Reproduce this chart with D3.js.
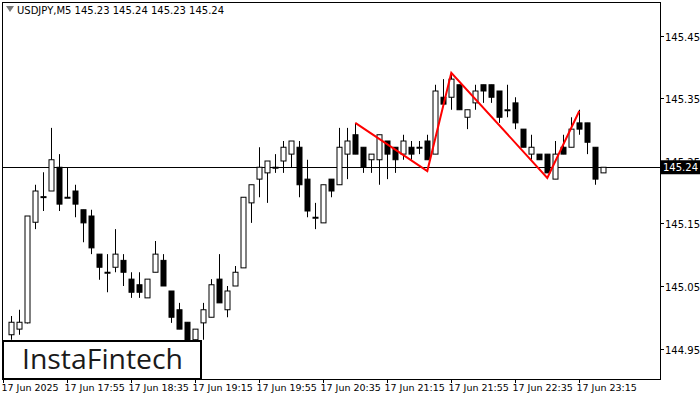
<!DOCTYPE html>
<html><head><meta charset="utf-8">
<script src="https://cdn.jsdelivr.net/npm/d3@7"></script>
<style>body{margin:0;background:#fff}svg{display:block}</style>
</head><body><div id="chart"></div>
<script>
const width = 700, height = 400;

// OHLC, one row per M5 candle
const opens  = [144.972,144.981,144.991,145.152,145.192,145.202,145.240,145.192,145.202,145.172,145.162,145.101,145.072,145.080,145.091,145.061,145.052,145.031,145.072,145.091,145.042,145.012,144.992,144.964,144.991,145.000,145.061,145.012,145.050,145.079,145.183,145.221,145.231,145.240,145.250,145.261,145.272,145.221,145.160,145.151,145.221,145.212,145.261,145.292,145.272,145.252,145.252,145.282,145.272,145.261,145.272,145.272,145.282,145.261,145.352,145.352,145.372,145.320,145.343,145.372,145.372,145.362,145.332,145.343,145.301,145.261,145.261,145.261,145.221,145.272,145.272,145.311,145.311,145.272,145.231];
const highs  = [145.002,145.012,145.162,145.212,145.232,145.303,145.261,145.240,145.212,145.172,145.172,145.101,145.101,145.141,145.101,145.072,145.072,145.061,145.122,145.101,145.042,145.023,144.992,144.981,145.023,145.061,145.101,145.050,145.082,145.192,145.212,145.272,145.250,145.261,145.282,145.282,145.282,145.252,145.183,145.212,145.221,145.303,145.303,145.311,145.272,145.261,145.292,145.282,145.272,145.292,145.282,145.282,145.292,145.372,145.381,145.391,145.372,145.332,145.372,145.372,145.372,145.362,145.372,145.352,145.301,145.292,145.261,145.261,145.282,145.292,145.320,145.332,145.311,145.272,145.240];
const lows   = [144.964,144.972,144.990,145.141,145.170,145.202,145.170,145.192,145.160,145.120,145.101,145.060,145.040,145.072,145.050,145.031,145.031,145.031,145.072,145.050,144.991,144.981,144.956,144.948,144.964,145.000,145.023,145.000,145.050,145.079,145.151,145.192,145.183,145.231,145.231,145.240,145.192,145.160,145.141,145.151,145.192,145.212,145.221,145.261,145.231,145.231,145.212,145.221,145.231,145.252,145.252,145.261,145.252,145.261,145.341,145.332,145.332,145.301,145.332,145.343,145.343,145.311,145.320,145.301,145.272,145.252,145.252,145.231,145.221,145.261,145.272,145.292,145.261,145.212,145.231];
const closes = [144.992,144.992,145.162,145.202,145.193,145.252,145.181,145.192,145.181,145.151,145.111,145.080,145.072,145.101,145.072,145.040,145.040,145.061,145.101,145.050,145.000,144.981,144.960,144.981,145.012,145.052,145.023,145.042,145.072,145.192,145.212,145.240,145.250,145.240,145.272,145.282,145.212,145.170,145.160,145.212,145.202,145.272,145.282,145.261,145.240,145.261,145.292,145.261,145.252,145.282,145.261,145.272,145.252,145.362,145.341,145.381,145.332,145.332,145.362,145.362,145.352,145.320,145.332,145.311,145.272,145.272,145.252,145.231,145.261,145.261,145.301,145.301,145.280,145.221,145.240];

// pattern outline (candle index, price)
const patternIdx = [43, 52, 55, 67, 71];
const patternPrice = [145.311, 145.234, 145.391, 145.223, 145.330];

const priceTicks = [145.45, 145.35, 145.25, 145.15, 145.05, 144.95];
const timeIdx = [-1, 7, 15, 23, 31, 39, 47, 55, 63, 71];
const timeLabels = ["17 Jun 2025","17 Jun 17:55","17 Jun 18:35","17 Jun 19:15","17 Jun 19:55","17 Jun 20:35","17 Jun 21:15","17 Jun 21:55","17 Jun 22:35","17 Jun 23:15"];
const lastPrice = 145.24;

const plot = {left: 2, right: 660, top: 2, bottom: 379};
const x = d3.scaleLinear().domain([0, 1]).range([11.3, 19.3]);
const y = d3.scaleLinear().domain([145.45, 144.95]).range([36, 348.5]);

const svg = d3.select("#chart").append("svg")
    .attr("width", width).attr("height", height)
    .style("font-family", "'DejaVu Sans', sans-serif");

svg.append("clipPath").attr("id", "clip").append("rect")
    .attr("x", plot.left).attr("y", plot.top)
    .attr("width", plot.right - plot.left).attr("height", plot.bottom - plot.top);

const g = svg.append("g").attr("clip-path", "url(#clip)");

// last price line
g.append("line").attr("x1", plot.left).attr("x2", plot.right)
    .attr("y1", Math.round(y(lastPrice)) + 0.5).attr("y2", Math.round(y(lastPrice)) + 0.5)
    .attr("stroke", "#000");

const candles = d3.range(opens.length);
g.selectAll("line.wick").data(candles).join("line")
    .attr("class", "wick")
    .attr("x1", i => Math.round(x(i)) + 0.5).attr("x2", i => Math.round(x(i)) + 0.5)
    .attr("y1", i => y(highs[i])).attr("y2", i => y(lows[i]))
    .attr("stroke", "#000");

g.selectAll("rect.body").data(candles).join("rect")
    .attr("class", "body")
    .attr("x", i => Math.round(x(i)) - 2)
    .attr("width", 5)
    .attr("y", i => y(Math.max(opens[i], closes[i])))
    .attr("height", i => Math.max(1, Math.abs(y(opens[i]) - y(closes[i]))))
    .attr("fill", i => closes[i] < opens[i] ? "#000" : "#fff")
    .attr("stroke", "#000").attr("stroke-width", 1);

// red pattern
g.append("path")
    .datum(patternIdx.map((d, k) => [x(d), y(patternPrice[k])]))
    .attr("d", d3.line())
    .attr("fill", "none").attr("stroke", "#ff0000").attr("stroke-width", 2);

// frame
svg.append("rect").attr("x", plot.left + 0.5).attr("y", plot.top + 0.5)
    .attr("width", plot.right - plot.left).attr("height", plot.bottom - plot.top)
    .attr("fill", "none").attr("stroke", "#000");

// right axis; 145.25 sits partly under the last price box, as in MT4
const ra = svg.append("g");
priceTicks.forEach(p => {
  const yy = Math.round(y(p)) + 0.5;
  ra.append("line").attr("x1", plot.right).attr("x2", plot.right + 4).attr("y1", yy).attr("y2", yy).attr("stroke", "#000");
  ra.append("text").attr("x", 665).attr("y", yy + 4).attr("font-size", 10).text(p.toFixed(2));
});
const ly = y(lastPrice);
ra.append("rect").attr("x", 661).attr("y", ly - 7).attr("width", 40).attr("height", 14).attr("fill", "#000");
ra.append("text").attr("x", 663).attr("y", ly + 4).attr("font-size", 10).attr("fill", "#fff").text(lastPrice.toFixed(2));

// bottom axis
timeIdx.forEach((t, k) => {
  const xx = Math.round(x(t)) + 0.5;
  svg.append("line").attr("x1", xx).attr("x2", xx).attr("y1", plot.bottom).attr("y2", plot.bottom + 4).attr("stroke", "#000");
  svg.append("text").attr("x", xx - 2 + (k === 0 ? 0 : -1)).attr("y", 391).attr("font-size", 9.5).text(timeLabels[k]);
});

// header
svg.append("path").attr("d", "M6,6 L14,6 L10,12 Z").attr("fill", "#777");
svg.append("text").attr("x", 17).attr("y", 14).attr("font-size", 10)
    .text("USDJPY,M5  145.23 145.24 145.23 145.24");

// logo
svg.append("rect").attr("x", 3).attr("y", 341).attr("width", 198).attr("height", 38)
    .attr("fill", "#fff").attr("stroke", "#000").attr("stroke-width", 2);
svg.append("text").attr("x", 22).attr("y", 369).attr("font-size", 28)
    .attr("textLength", 161).attr("lengthAdjust", "spacingAndGlyphs")
    .attr("font-family", "'Open Sans', sans-serif").attr("font-weight", 500)
    .attr("fill", "#1a1a1a").text("InstaFintech");
</script></body></html>
